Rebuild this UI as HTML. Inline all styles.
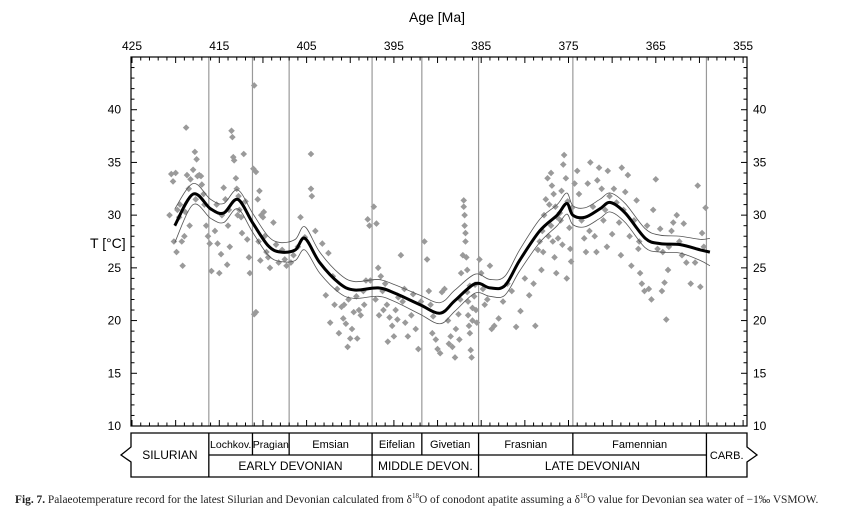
<!DOCTYPE html>
<html><head><meta charset="utf-8"><style>
body{margin:0;background:#fff;width:842px;height:510px;overflow:hidden;font-family:"Liberation Sans",sans-serif}
.cap{position:absolute;left:15px;top:492px;font-family:"Liberation Serif",serif;font-size:11.4px;color:#222;white-space:nowrap}
</style></head><body>
<svg id="chart" width="842" height="510" style="position:absolute;left:0;top:0" font-family="Liberation Sans, sans-serif">
<g id="g"></g>
</svg>
<div class="cap"><b>Fig. 7.</b> Palaeotemperature record for the latest Silurian and Devonian calculated from δ<sup style="font-size:7px">18</sup>O of conodont apatite assuming a δ<sup style="font-size:7px">18</sup>O value for Devonian sea water of −1‰ VSMOW.</div>
<script>
const curveAge=[420.1,418,416,414.5,412.9,411.2,409.4,408,406.3,405.2,403.5,401.2,399.5,396.8,394.9,392,389.7,388,385.7,384,382.3,380.6,378.3,376.3,375.2,374.5,373.1,371.4,370.2,368.5,366.2,364.5,362.2,359.9,358.8];
const curveT=[29.0,32.0,30.6,30.2,31.5,29.3,27.1,26.5,26.7,27.8,25.5,23.5,22.9,23.1,22.6,21.5,20.7,21.9,23.5,23.1,23.3,25.7,28.5,30,31.1,30,29.8,30.6,31.2,30.2,27.8,27.3,27.2,26.7,26.5];
const bandW=[1.6,1.0,0.9,0.9,0.9,0.9,0.9,0.9,1.0,1.1,1.0,0.9,0.8,0.8,0.8,0.9,1.0,1.0,0.9,0.8,0.9,1.0,1.1,1.0,1.0,0.9,0.9,0.9,0.9,0.9,0.9,0.8,0.8,1.0,1.3];
const ptAge=[420.5,420.3,420,419.8,419.6,419.5,419.3,419.2,419,418.8,418.7,418.5,418.3,418,417.8,417.6,417.5,417.3,417.1,417,416.8,416.5,416.3,416.1,415.9,420.2,419.9,418.4,417.7,418.9,416.7,420.7,
415.5,415.2,415,414.7,414.5,414.3,414,413.8,413.6,413.5,413.4,413.3,413.1,413,412.8,412.7,412.5,412.4,412.2,412,411.8,411.6,411.5,414.8,413.9,412.9,415.3,414.1,
411,411.1,410.8,410.6,410.4,410.2,410,409.8,409.6,409.4,409.2,411,410.8,410.5,409.9,410.3,408.8,408.5,408.2,407.8,407.5,407.3,
406.8,406.5,406,405.7,405.2,404.5,404.5,404.4,404,403.2,402.5,402,401.5,401,400.8,400.5,400.3,400,399.8,399.6,399.3,399,398.8,398.5,398.2,398,397.8,400.2,401.8,402.3,399.2,398.4,397.7,400.7,401.3,402.8,
397.3,397,396.8,396.5,396.3,396,395.8,395.5,395.2,395,394.8,394.5,394.2,394,393.7,393.4,393,392.8,392.5,392.2,391.9,396.7,395.7,397.1,393.8,396.2,394.6,
391.5,391.2,391,390.8,390.5,390.2,390,389.7,389.5,389.2,388.8,388.5,388.3,388,387.9,387.6,387.4,387.3,387.1,387,387,386.9,386.9,386.8,386.8,386.7,386.6,386.6,386.5,386.5,386.4,386.3,386.2,386.1,386,386,385.8,385.7,385.6,385.5,387.5,386.3,388.7,390.6,
385.2,385,384.8,384.6,384.3,384,383.8,383.5,383,382.5,381.5,381,382,380.5,380,379.5,379,378.8,378.5,378.3,378,377.8,377.6,377.4,377.2,377,376.8,376.6,376.4,376.2,376,375.8,375.6,375.5,375.3,375.1,374.9,374.8,374.7,377.9,376.9,376.3,375.2,377.3,376.5,375.7,378.1,377,375.9,376.7,374.6,
374.3,374,373.8,373.5,373.2,373,372.8,372.5,372.2,372,371.8,371.5,371.2,371,370.8,370.5,370.3,370,369.8,369.5,369.2,369,368.7,368.5,368.2,368,367.8,367.5,367.2,367,366.8,366.6,366.3,366,365.8,365.5,365.3,365,364.8,364.5,364.3,364,363.8,363.5,363.2,363,362.6,362.3,362,361.5,361,360.5,360.2,359.9,359.5,359.3,363.6,366.9,372.6,370.6,368.9,361.8,359.7,364.2,371.7];
const ptT=[33.9,33.2,34,30.5,29.8,31,27.5,25.2,28,38.3,33.8,32.5,33.4,34.3,36,35.3,33.7,33.8,33.7,32.9,32,29,28,27.3,24.7,27.5,26.5,29,31.5,30.3,31,30,
28.5,27.3,24.5,30,32.6,31.5,29,27,38,37.4,35.5,35.2,33.5,32.5,31.8,30.5,29.8,28.3,35.8,31.3,27.7,26,24.5,26.3,30.5,30,31,25.3,
42.3,34.4,34.1,31.5,32.3,30,29.8,28,26.5,26,25,20.6,20.8,27.5,30.3,25.7,29.3,27.2,25.5,26.7,25.8,25.2,
25.5,26.2,27,29.8,27.9,35.8,32.5,31.8,28.5,27.3,26.4,24.2,23,21.3,20.2,19.7,17.5,18.3,19.2,20.8,22.3,21,20.5,22.8,23.8,29.6,29,22,21.5,19.8,18.3,21.5,23.8,21.5,18.8,22.4,
30.8,29.2,25,24.2,22.8,23.5,21.5,20.3,19.5,18.5,21,22.2,26.2,21.8,19.8,18.5,20.5,22.5,19.2,17.3,21.8,20.5,18,22,23,21,20.1,
27.5,25.8,22.8,21.5,20.4,18.2,17.3,16.9,22.7,23,20,18.5,17.5,16.5,19.2,20.6,22,24.5,26.2,31.4,30.8,30,29,28.3,27.5,26,24.8,22.7,21.8,20.5,19.5,18.8,17.2,16.5,21.2,20,22.3,23.4,21,19.8,18.2,23.3,17.8,18.8,
25.8,24.5,23,21.5,22,25.2,19.2,19.5,20.2,21.8,22.8,19.4,23.5,20.9,24,22.4,23.5,19.5,26.7,27.5,28.5,30,31.5,33.5,31,29,27.5,26,24.5,27.8,30.2,32.3,34.8,35.7,33.5,31.3,28.8,26.8,25.6,26.5,32.8,29.8,24,28,30.8,27.2,24.8,34,29.5,32,30.7,
33,34.2,32,29.5,27.8,26.5,33,35,30.8,28,26.5,34.5,32.5,29.5,30.5,34.2,31.8,28.2,32.5,31.2,29.3,26.2,30.5,32.2,33.8,28,25.2,29.5,31.4,26.8,24.5,23.5,22.8,29,23,22,30.5,33.4,26.8,28.7,22.8,23.6,20.1,27,28.5,29.3,30,27.5,26.2,25.5,23.5,25.5,32.8,23.2,27,30.7,24.8,27.5,28.5,27,34.5,29.2,28.3,26.5,33.3];
const xTickLabels=[425,415,405,395,385,375,365,355];
const yTickLabels=[10,15,20,25,30,35,40];
const boundaries=[416.2,411.2,407,397.5,391.8,385.3,374.5,359.2];

const L=131,R=747,T=57,B=426;
const X=a=>132+(425-a)*8.73;
const Y=t=>B-(t-10)*(B-T)/35;
const NS='http://www.w3.org/2000/svg';
const g=document.getElementById('g');
function mk(tag,at,parent){const e=document.createElementNS(NS,tag);for(const k in at)e.setAttribute(k,at[k]);(parent||g).appendChild(e);return e;}

boundaries.forEach(b=>{
  const l=mk('line',{x1:X(b),x2:X(b),y1:T,y2:B,stroke:'#999','stroke-width':1.2});
  
  
});
ptAge.forEach((a,i)=>{
  const x=X(a),y=Y(ptT[i]);
  const p=mk('polygon',{points:`${x},${y-3.3} ${x+3.3},${y} ${x},${y+3.3} ${x-3.3},${y}`,fill:'#9a9a9a'});
  
  
});
function smooth(pts){let d=`M${pts[0][0]},${pts[0][1]}`;for(let i=0;i<pts.length-1;i++){const p0=pts[Math.max(0,i-1)],p1=pts[i],p2=pts[i+1],p3=pts[Math.min(pts.length-1,i+2)];const c1x=p1[0]+(p2[0]-p0[0])/6,c1y=p1[1]+(p2[1]-p0[1])/6,c2x=p2[0]-(p3[0]-p1[0])/6,c2y=p2[1]-(p3[1]-p1[1])/6;d+=` C${c1x},${c1y} ${c2x},${c2y} ${p2[0]},${p2[1]}`;}return d;}
const up=smooth(curveAge.map((a,i)=>[X(a),Y(curveT[i]+bandW[i])]));
const lo=smooth(curveAge.map((a,i)=>[X(a),Y(curveT[i]-bandW[i])]));
const u=mk('path',{d:up,fill:'none',stroke:'#555','stroke-width':0.8});


const lw=mk('path',{d:lo,fill:'none',stroke:'#555','stroke-width':0.8});


const m=mk('path',{d:smooth(curveAge.map((a,i)=>[X(a),Y(curveT[i])])),fill:'none',stroke:'#000','stroke-width':3});



const fr=mk('rect',{x:L,y:T,width:R-L,height:B-T,fill:'none',stroke:'#000','stroke-width':1.2});


for(let a=425;a>=355;a--){const x=X(a);const len=a%5===0?6:3.5;
  mk('line',{x1:x,x2:x,y1:T,y2:T+len,stroke:'#000','stroke-width':1});
  mk('line',{x1:x,x2:x,y1:B,y2:B-len,stroke:'#000','stroke-width':1});}
xTickLabels.forEach(a=>{const t=mk('text',{x:X(a),y:50,'font-size':12,'text-anchor':'middle'});t.textContent=a;
  
  });
for(let v=10;v<=45;v++){const y=Y(v);const len=v%5===0?6:3.5;
  mk('line',{x1:L,x2:L+len,y1:y,y2:y,stroke:'#000','stroke-width':1});
  mk('line',{x1:R,x2:R-len,y1:y,y2:y,stroke:'#000','stroke-width':1});}
yTickLabels.forEach(v=>{
  const t=mk('text',{x:121,y:Y(v)+4,'font-size':12,'text-anchor':'end'});t.textContent=v;
  
  
  const t2=mk('text',{x:753,y:Y(v)+4,'font-size':12});t2.textContent=v;
  
  });
const xt=mk('text',{x:437,y:22,'font-size':14,'text-anchor':'middle'});xt.textContent='Age [Ma]';


const yt=mk('text',{x:90,y:248,'font-size':14});yt.textContent='T [°C]';



const sT=433,sM=455,sB=477;
const sg=mk('g',{stroke:'#000','stroke-width':1.3,fill:'none'});


mk('path',{d:`M${L},${sT} H${R} V447 L757,455 L${R},462 V${sB} H${L} V462 L121,455 L${L},447 Z`},sg);
mk('line',{x1:X(416.2),x2:X(359.2),y1:sM,y2:sM},sg);
[416.2,359.2,397.5,385.3].forEach(b=>mk('line',{x1:X(b),x2:X(b),y1:sT,y2:sB},sg));
[411.2,407,391.8,374.5].forEach(b=>mk('line',{x1:X(b),x2:X(b),y1:sT,y2:sM},sg));
function lab(txt,x,y,s){const t=mk('text',{x:x,y:y,'font-size':s||11,'text-anchor':'middle'});t.textContent=txt;
  
  }
lab('SILURIAN',(L+X(416.2))/2,459,12);
lab('Lochkov.',(X(416.2)+X(411.2))/2,448,10.5);
lab('Pragian',(X(411.2)+X(407))/2,448,10.5);
lab('Emsian',(X(407)+X(397.5))/2,448);
lab('Eifelian',(X(397.5)+X(391.8))/2,448);
lab('Givetian',(X(391.8)+X(385.3))/2,448);
lab('Frasnian',(X(385.3)+X(374.5))/2,448);
lab('Famennian',(X(374.5)+X(359.2))/2,448);
lab('EARLY DEVONIAN',(X(416.2)+X(397.5))/2,470,12);
lab('MIDDLE DEVON.',(X(397.5)+X(385.3))/2,470,12);
lab('LATE DEVONIAN',(X(385.3)+X(359.2))/2,470,12);
lab('CARB.',(X(359.2)+R)/2,459,11);
</script>
</body></html>
